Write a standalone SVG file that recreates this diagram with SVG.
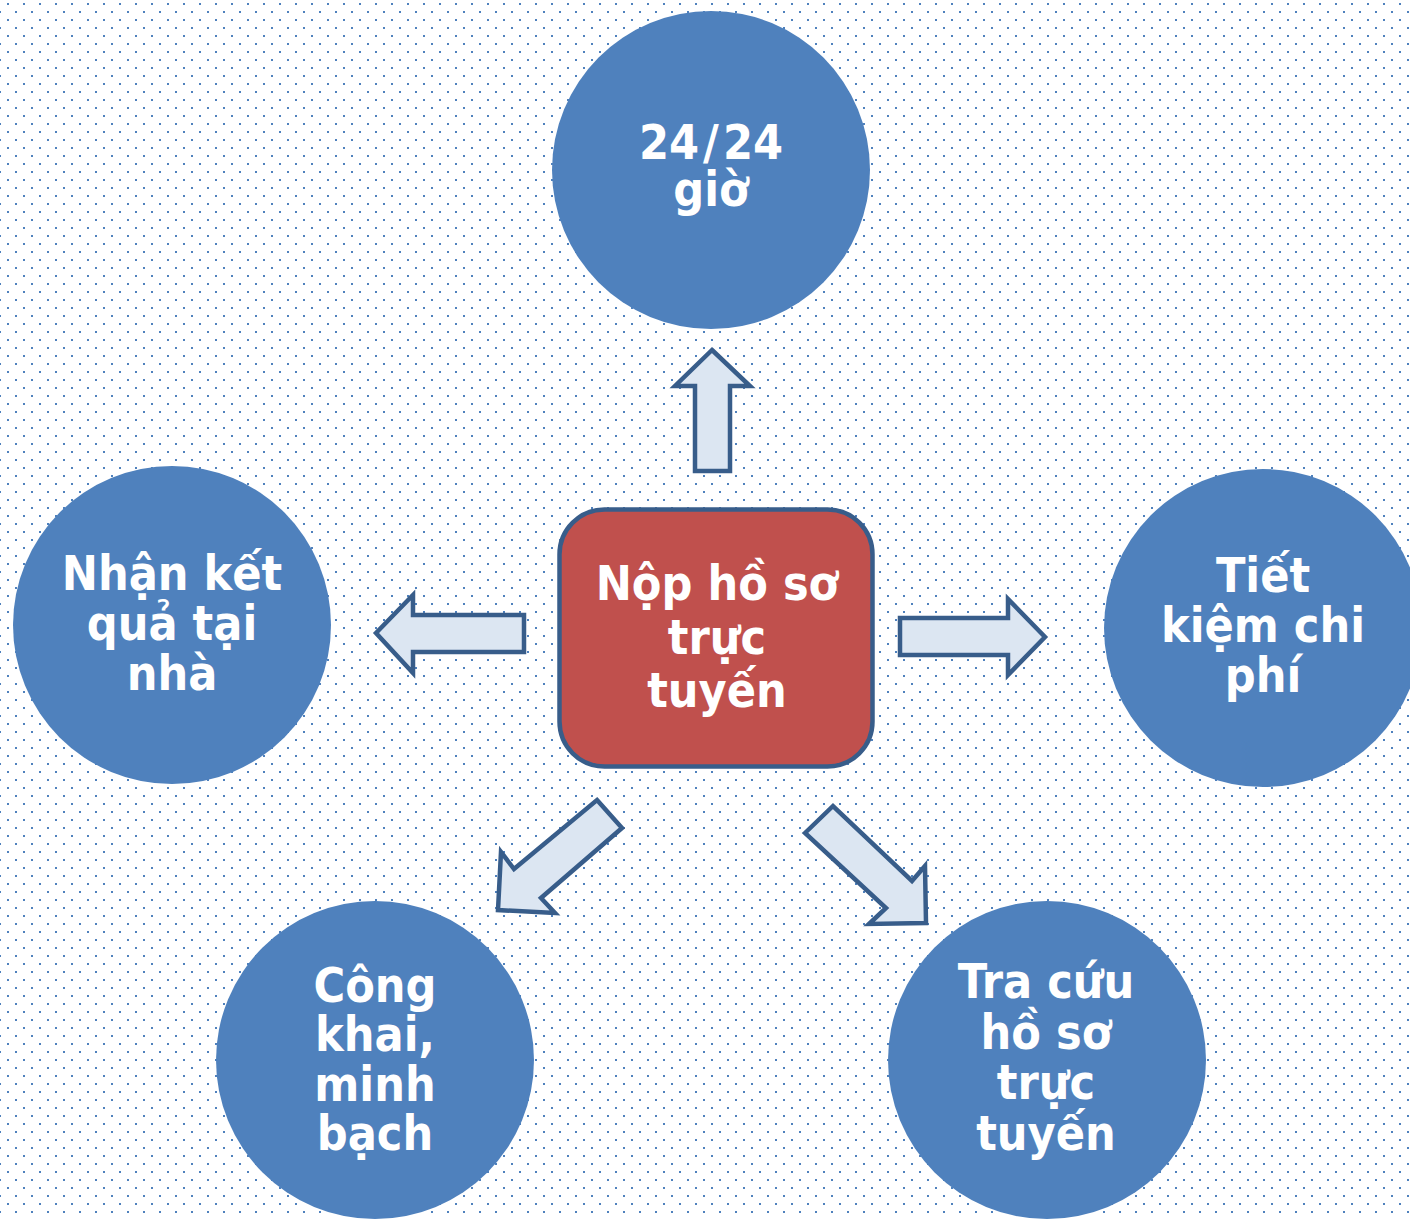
<svg xmlns="http://www.w3.org/2000/svg" width="1410" height="1219" viewBox="0 0 1410 1219">
<defs>
<pattern id="dots" patternUnits="userSpaceOnUse" x="0" y="0" width="16" height="16">
<rect x="7" y="3" width="2" height="2" fill="#4f81bd"/>
<rect x="15" y="11" width="2" height="2" fill="#4f81bd"/>
<rect x="-1" y="11" width="2" height="2" fill="#4f81bd"/>
</pattern>
<style>
.circ{fill:#4f81bd;}
.lbl{font-family:"DejaVu Sans Condensed","DejaVu Sans",sans-serif;font-weight:bold;font-size:48px;fill:#ffffff;text-anchor:middle;}
.arrow{fill:#dce6f2;stroke:#385d8a;stroke-width:4.5;stroke-linejoin:miter;}
.center{fill:#c0504d;stroke:#385d8a;stroke-width:4.5;}
</style>
</defs>
<rect x="0" y="0" width="1410" height="1219" fill="#ffffff"/>
<rect x="0" y="0" width="1410" height="1219" fill="url(#dots)"/>

<g id="connectors">
<path class="arrow" d="M712,350 L750,386 L730,386 L730,471 L695,471 L695,386 L675,386 Z"/>
<path class="arrow" d="M376,633 L413,595 L413,615 L524,615 L524,652 L413,652 L413,673 Z"/>
<path class="arrow" d="M900,618 L1008,618 L1008,599 L1045,637 L1008,675 L1008,655 L900,655 Z"/>
<path class="arrow" d="M597,800 L622,828 L541,898 L555,913 L498,910 L501,852 L514,869 Z"/>
<path class="arrow" d="M805,833 L833,806 L912,881 L925,866 L926,923 L869,924 L886,908 Z"/>
</g>

<g id="node-top">
<circle class="circ" cx="711" cy="170" r="159"/>
<text class="lbl" x="711" y="159"><tspan>24</tspan><tspan dx="4">/</tspan><tspan dx="4">24</tspan></text>
<text class="lbl" x="711" y="206">giờ</text>
</g>

<g id="node-left">
<circle class="circ" cx="172" cy="625" r="159"/>
<text class="lbl" x="172" y="590">Nhận kết</text>
<text class="lbl" x="172" y="640">quả tại</text>
<text class="lbl" x="172" y="690">nhà</text>
</g>

<g id="node-right">
<circle class="circ" cx="1263" cy="628" r="159"/>
<text class="lbl" x="1263" y="592">Tiết</text>
<text class="lbl" x="1263" y="642">kiệm chi</text>
<text class="lbl" x="1263" y="692">phí</text>
</g>

<g id="node-bottom-left">
<circle class="circ" cx="375" cy="1060" r="159"/>
<text class="lbl" x="375" y="1002">Công</text>
<text class="lbl" x="375" y="1051">khai,</text>
<text class="lbl" x="375" y="1101">minh</text>
<text class="lbl" x="375" y="1150">bạch</text>
</g>

<g id="node-bottom-right">
<circle class="circ" cx="1047" cy="1060" r="159"/>
<text class="lbl" x="1046" y="998">Tra cứu</text>
<text class="lbl" x="1046" y="1049">hồ sơ</text>
<text class="lbl" x="1046" y="1099">trực</text>
<text class="lbl" x="1046" y="1150">tuyến</text>
</g>

<g id="node-center">
<rect class="center" x="559.5" y="509.5" width="313" height="257" rx="45" ry="45"/>
<text class="lbl" x="717" y="600">Nộp hồ sơ</text>
<text class="lbl" x="717" y="654">trực</text>
<text class="lbl" x="717" y="707">tuyến</text>
</g>
</svg>
